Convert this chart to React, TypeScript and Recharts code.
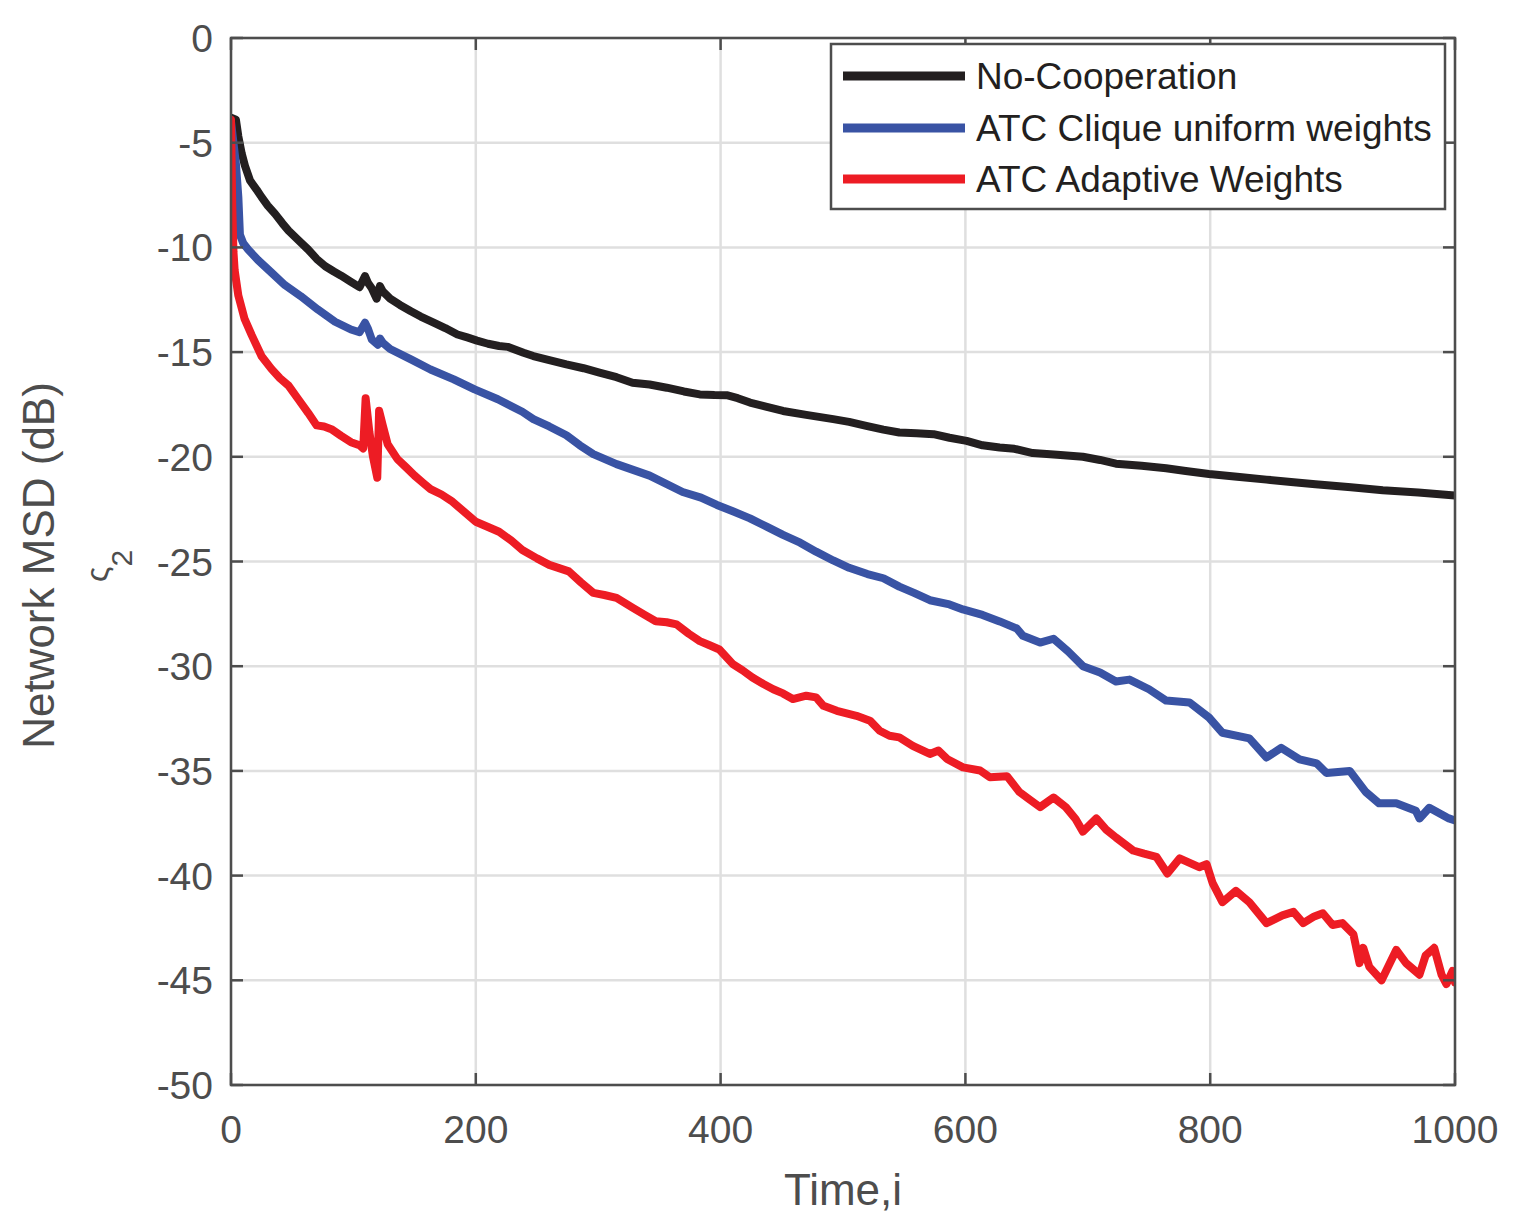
import React from 'react';
import { LineChart, Line, XAxis, YAxis, CartesianGrid } from 'recharts';

// ---------- data ----------
const xTicks = [0, 200, 400, 600, 800, 1000];
const yTicks = [0, -5, -10, -15, -20, -25, -30, -35, -40, -45, -50];

const seriesNames = ['No-Cooperation', 'ATC Clique uniform weights', 'ATC Adaptive Weights'];
const seriesColors = ['#231F20', '#3953A4', '#ED1C24'];

const noCoopIter = [0, 4, 6, 8.7, 11.4, 15.5, 21, 25, 30, 36, 42, 47, 55, 63, 70, 77, 84, 90, 98, 105, 109.5, 112, 115, 119, 121.7, 124, 130, 138, 147, 155, 166, 175, 185, 193, 201, 210, 219, 226, 239, 247, 260, 274, 288, 301, 315, 328, 342, 356, 370, 383, 395, 405, 414, 424, 437, 451, 470, 492, 505, 519, 533, 546, 560, 574, 587, 601, 614, 628, 640, 655, 675, 696, 710, 723, 744, 764, 780, 799, 822, 846, 866, 886, 915, 941, 970, 1000];
const noCoopMsd = [-3.8, -3.9, -4.7, -5.5, -6.1, -6.8, -7.25, -7.6, -8.0, -8.4, -8.85, -9.2, -9.65, -10.1, -10.55, -10.9, -11.15, -11.35, -11.65, -11.9, -11.37, -11.7, -11.95, -12.45, -11.85, -12.1, -12.45, -12.75, -13.05, -13.3, -13.6, -13.85, -14.16, -14.3, -14.45, -14.6, -14.71, -14.75, -15.03, -15.19, -15.38, -15.59, -15.77, -15.98, -16.2, -16.46, -16.55, -16.7, -16.88, -17.02, -17.05, -17.06, -17.2, -17.41, -17.6, -17.81, -18.0, -18.2, -18.33, -18.52, -18.7, -18.84, -18.88, -18.92, -19.09, -19.24, -19.45, -19.56, -19.62, -19.82, -19.9, -20.0, -20.15, -20.33, -20.43, -20.55, -20.68, -20.82, -20.95, -21.09, -21.2, -21.31, -21.45, -21.6, -21.7, -21.85];

const cliqueIter = [0, 4, 6, 7.3, 10, 14, 22, 33, 44, 57, 71, 85, 98, 105, 109.5, 112, 115, 120, 121.7, 124, 130, 147, 163, 182, 199, 218, 238, 247, 260, 274, 285, 296, 315, 342, 369, 384, 397, 410, 424, 438, 451, 465, 478, 492, 505, 520, 533, 546, 558, 571, 587, 598, 614, 628, 642, 647, 661, 672, 684, 696, 710, 723, 734, 750, 764, 783, 799, 810, 832, 846, 858, 873, 887, 895, 914, 927, 938, 952, 968, 971, 979, 995, 1000];
const cliqueMsd = [-4, -6.0, -7.6, -9.4, -9.8, -10.1, -10.6, -11.2, -11.8, -12.33, -12.97, -13.55, -13.92, -14.05, -13.6, -13.9, -14.4, -14.65, -14.35, -14.55, -14.85, -15.35, -15.83, -16.3, -16.78, -17.25, -17.85, -18.2, -18.55, -18.97, -19.45, -19.87, -20.35, -20.9, -21.68, -21.95, -22.3, -22.6, -22.94, -23.35, -23.73, -24.1, -24.53, -24.95, -25.3, -25.6, -25.8, -26.2, -26.5, -26.85, -27.05, -27.29, -27.55, -27.86, -28.2, -28.55, -28.87, -28.69, -29.3, -30.0, -30.3, -30.73, -30.64, -31.1, -31.64, -31.73, -32.45, -33.18, -33.45, -34.36, -33.9, -34.45, -34.64, -35.1, -35.0, -36.0, -36.55, -36.55, -36.9, -37.27, -36.76, -37.27, -37.36];

const adaptiveIter = [0, 1, 2, 3, 6, 11, 17, 25, 33, 40, 47, 55, 63, 70, 76, 82, 90, 98, 105, 108, 110, 113, 116, 119.5, 121, 124, 128, 136, 143, 150, 157, 163, 172, 180, 190, 200, 210, 219, 229, 238, 250, 260, 276, 286, 296, 305, 315, 328, 338, 347, 356, 364, 374, 383, 391, 399, 410, 418, 426, 435, 443, 451, 459, 470, 478, 484, 495, 511, 522, 530, 538, 546, 557, 571, 578, 585, 598, 612, 620, 634, 644, 652, 661, 672, 682, 690, 696, 707, 715, 723, 737, 746, 756, 765, 775, 791, 797, 802, 810, 821, 832, 846, 859, 868, 876, 885, 892, 900, 908, 917, 922, 925, 930, 940, 952, 960, 971, 976, 983, 989, 993, 998, 1000];
const adaptiveMsd = [-3.9, -8, -10.2, -11.1, -12.3, -13.4, -14.2, -15.2, -15.8, -16.25, -16.6, -17.25, -17.9, -18.5, -18.55, -18.68, -19.0, -19.3, -19.45, -19.6, -17.2, -18.8, -20.0, -21.0, -17.8, -18.5, -19.4, -20.11, -20.5, -20.9, -21.25, -21.54, -21.8, -22.1, -22.6, -23.1, -23.35, -23.58, -24.0, -24.45, -24.85, -25.16, -25.47, -26.0, -26.5, -26.6, -26.74, -27.2, -27.55, -27.85, -27.9, -28.0, -28.45, -28.8, -29.0, -29.2, -29.9, -30.2, -30.54, -30.85, -31.1, -31.3, -31.57, -31.41, -31.49, -31.89, -32.13, -32.37, -32.6, -33.08, -33.32, -33.4, -33.8, -34.19, -34.03, -34.43, -34.83, -34.98, -35.3, -35.25, -36.0, -36.35, -36.73, -36.27, -36.73, -37.3, -37.9, -37.27, -37.8, -38.18, -38.8, -38.95, -39.1, -39.9, -39.18, -39.6, -39.45, -40.36, -41.27, -40.73, -41.27, -42.27, -41.9, -41.73, -42.27, -41.95, -41.8, -42.36, -42.27, -42.8, -44.18, -43.45, -44.36, -45.0, -43.55, -44.18, -44.73, -43.82, -43.45, -44.73, -45.18, -44.55, -45.1];

const xLabel = 'Time,i';
const yLabel = 'Network MSD (dB)';

// ---------- layout ----------
const W = 1500;
const H = 1205;
const PLOT_LEFT = 223;
const PLOT_TOP = 30;
const PLOT_RIGHT = 1447;
const PLOT_BOTTOM = 1077;
const Y_AXIS_W = 100;
const X_AXIS_H = 60;
const FONT = '"Liberation Sans", Arial, Helvetica, sans-serif';
const AXIS_COLOR = '#4D4D4D';
const TICK_LEN = 12;

const toRows = (iter: number[], msd: number[]) => iter.map((i, k) => ({ i, msd: msd[k] }));
const seriesData = [
  toRows(noCoopIter, noCoopMsd),
  toRows(cliqueIter, cliqueMsd),
  toRows(adaptiveIter, adaptiveMsd),
];

const YTick = (props: any) => {
  const { y, payload } = props;
  return (
    <g>
      <line x1={PLOT_LEFT} x2={PLOT_LEFT + TICK_LEN} y1={y} y2={y} stroke={AXIS_COLOR} strokeWidth={2.5} />
      <line x1={PLOT_RIGHT - TICK_LEN} x2={PLOT_RIGHT} y1={y} y2={y} stroke={AXIS_COLOR} strokeWidth={2.5} />
      <text x={PLOT_LEFT - 18} y={y + 14} textAnchor="end" fontSize={39} fill={AXIS_COLOR} fontFamily={FONT}>
        {payload.value}
      </text>
    </g>
  );
};

const XTick = (props: any) => {
  const { x, payload } = props;
  return (
    <g>
      <line x1={x} x2={x} y1={PLOT_BOTTOM - TICK_LEN} y2={PLOT_BOTTOM} stroke={AXIS_COLOR} strokeWidth={2.5} />
      <line x1={x} x2={x} y1={PLOT_TOP} y2={PLOT_TOP + TICK_LEN} stroke={AXIS_COLOR} strokeWidth={2.5} />
      <text x={x} y={PLOT_BOTTOM + 58} textAnchor="middle" fontSize={39} fill={AXIS_COLOR} fontFamily={FONT}>
        {payload.value}
      </text>
    </g>
  );
};

export default function App() {
  const legendLeft = 823;
  const legendTop = 36;
  const rowY = [32, 84, 135];
  return (
    <div style={{ position: 'relative', width: W, height: H, background: '#fff' }}>
      <LineChart
        width={W}
        height={H}
        margin={{ top: PLOT_TOP, right: W - PLOT_RIGHT, left: PLOT_LEFT - Y_AXIS_W, bottom: H - PLOT_BOTTOM - X_AXIS_H }}
      >
        <CartesianGrid stroke="#DFDFDF" strokeWidth={2.5} />
        <XAxis
          dataKey="i"
          type="number"
          domain={[0, 1000]}
          ticks={xTicks}
          allowDataOverflow
          axisLine={false}
          tickLine={false}
          tickSize={0}
          height={X_AXIS_H}
          tick={<XTick />}
          interval={0}
        />
        <YAxis
          type="number"
          domain={[-50, 0]}
          ticks={yTicks}
          allowDataOverflow
          axisLine={false}
          tickLine={false}
          tickSize={0}
          width={Y_AXIS_W}
          tick={<YTick />}
          interval={0}
        />
        {seriesData.map((d, k) => (
          <Line
            key={seriesNames[k]}
            data={d}
            dataKey="msd"
            name={seriesNames[k]}
            type="linear"
            stroke={seriesColors[k]}
            strokeWidth={8}
            strokeLinejoin="round"
            strokeLinecap="round"
            dot={false}
            activeDot={false}
            isAnimationActive={false}
          />
        ))}
      </LineChart>
      <svg
        width={W}
        height={H}
        style={{ position: 'absolute', left: 0, top: 0, pointerEvents: 'none' }}
      >
        <rect
          x={PLOT_LEFT}
          y={PLOT_TOP}
          width={PLOT_RIGHT - PLOT_LEFT}
          height={PLOT_BOTTOM - PLOT_TOP}
          fill="none"
          stroke={AXIS_COLOR}
          strokeWidth={2.5}
        />
        <text
          x={(PLOT_LEFT + PLOT_RIGHT) / 2}
          y={1197}
          textAnchor="middle"
          fontSize={44}
          fill={AXIS_COLOR}
          fontFamily={FONT}
        >
          {xLabel}
        </text>
        <text
          transform={`translate(46, ${(PLOT_TOP + PLOT_BOTTOM) / 2 + 4}) rotate(-90)`}
          textAnchor="middle"
          fontSize={44}
          fill={AXIS_COLOR}
          fontFamily={FONT}
        >
          {yLabel}
        </text>
        <text
          transform="translate(100, 574) rotate(-90)"
          fontSize={32}
          fill={AXIS_COLOR}
          fontFamily={FONT}
        >
          ς<tspan dy={24} fontSize={30}>2</tspan>
        </text>
        <g transform={`translate(${legendLeft}, ${legendTop})`}>
          <rect x={0} y={0} width={614} height={165} fill="#fff" stroke={AXIS_COLOR} strokeWidth={2.5} />
          {seriesNames.map((n, k) => (
            <g key={n}>
              <line x1={12} x2={134} y1={rowY[k]} y2={rowY[k]} stroke={seriesColors[k]} strokeWidth={9} />
              <text x={145} y={rowY[k] + 13} fontSize={37} fill="#231F20" fontFamily={FONT}>
                {n}
              </text>
            </g>
          ))}
        </g>
      </svg>
    </div>
  );
}
